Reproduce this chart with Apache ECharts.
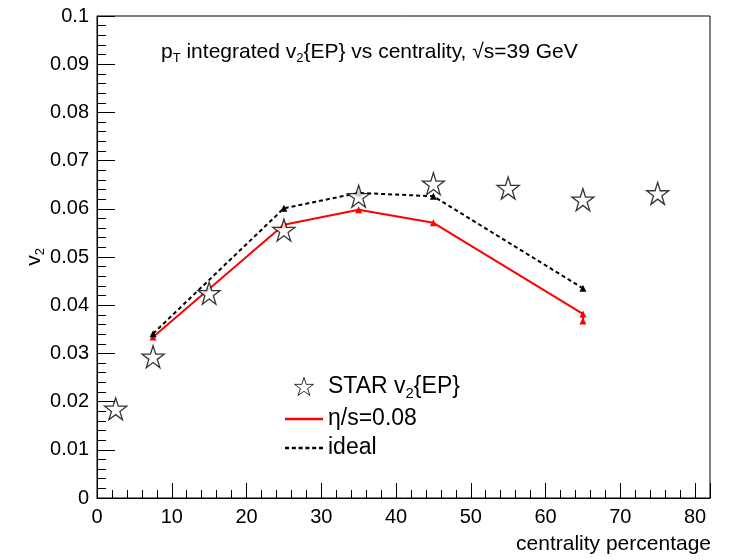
<!DOCTYPE html>
<html>
<head>
<meta charset="utf-8">
<script src="https://cdn.jsdelivr.net/npm/echarts@6/dist/echarts.min.js"></script>
<style>
  html, body { margin: 0; padding: 0; background: #fff; }
  #v2-chart { width: 735px; height: 560px; }
</style>
</head>
<body>
<div id="v2-chart"></div>
<script>
  // STAR v2{EP} measurements
  const starX = [2.5, 7.5, 15, 25, 35, 45, 55, 65, 75];
  const starV2 = [0.0185, 0.0293, 0.0425, 0.0556, 0.0626, 0.0652, 0.0643, 0.0619, 0.0632];
  // hydro eta/s = 0.08
  const viscX = [7.5, 25, 35, 45, 65, 65];
  const viscV2 = [0.0334, 0.0567, 0.0598, 0.0571, 0.0382, 0.0367];
  // ideal hydro
  const idealX = [7.5, 25, 35, 45, 65];
  const idealV2 = [0.0341, 0.0601, 0.0633, 0.0626, 0.0435];

  const pairs = (xs, ys) => xs.map((x, i) => [x, ys[i]]);
  const font = 'Liberation Sans';
  const starPath = 'path://M50,0 L61.2,34.5 L97.6,34.5 L68.2,55.9 L79.4,90.5 L50,69.1 L20.6,90.5 L31.8,55.9 L2.4,34.5 L38.8,34.5 Z';
  const sub = { fontSize: 13, fontFamily: font, color: '#000', padding: [13, 0, 0, 0] };

  let chart = echarts.init(document.getElementById('v2-chart'));
  const option = {
    animation: false,
    title: {
      left: 156,
      top: 34,
      text: 'p{sub|T} integrated v{sub|2}{EP} vs centrality, √s=39 GeV',
      textStyle: {
        fontFamily: font, fontSize: 21, fontWeight: 'normal', color: '#000',
        rich: { sub: sub }
      }
    },
    legend: {
      orient: 'vertical',
      left: 280,
      top: 370,
      itemWidth: 38,
      itemHeight: 18,
      itemGap: 6,
      textStyle: {
        fontFamily: font, fontSize: 23, color: '#000',
        rich: { sub: { fontSize: 15, fontFamily: font, color: '#000', padding: [15, 0, 0, 0] } }
      },
      formatter: function (name) {
        return name === 'STAR' ? 'STAR v{sub|2}{EP}' : name;
      },
      data: [
        { name: 'STAR', icon: starPath, itemStyle: { color: '#fff', borderColor: '#000', borderWidth: 1 } },
        { name: 'η/s=0.08', icon: 'path://M0,0h38v2.4h-38z', itemStyle: { borderWidth: 0 } },
        { name: 'ideal', icon: 'path://M0,0h4v2.4h-4zM6.8,0h4v2.4h-4zM13.6,0h4v2.4h-4zM20.4,0h4v2.4h-4zM27.2,0h4v2.4h-4zM34,0h4v2.4h-4z', itemStyle: { borderWidth: 0 } }
      ]
    },
    grid: {
      left: 97,
      right: 25,
      top: 16,
      bottom: 62,
      show: true,
      borderColor: '#000',
      borderWidth: 1
    },
    xAxis: {
      type: 'value',
      min: 0,
      max: 82,
      interval: 10,
      name: 'centrality percentage',
      nameLocation: 'end',
      nameGap: 1,
      nameTextStyle: {
        fontFamily: font, fontSize: 21, color: '#000',
        align: 'right', verticalAlign: 'top', padding: [36, 0, 0, 0]
      },
      axisLine: { onZero: false, lineStyle: { color: '#000', width: 1 } },
      axisTick: { inside: true, length: 15, lineStyle: { color: '#000' } },
      minorTick: { show: true, splitNumber: 5, length: 8, lineStyle: { color: '#000' } },
      splitLine: { show: false },
      axisLabel: {
        fontFamily: font, fontSize: 20, color: '#000', margin: 9,
        showMaxLabel: false
      }
    },
    yAxis: {
      type: 'value',
      min: 0,
      max: 0.1,
      interval: 0.01,
      name: 'v{sub|2}',
      nameLocation: 'middle',
      nameRotate: 90,
      nameGap: 50,
      nameMoveOverlap: false,
      nameTextStyle: {
        fontFamily: font, fontSize: 21, color: '#000',
        rich: { sub: sub }
      },
      axisLine: { show: true, onZero: false, lineStyle: { color: '#000', width: 1 } },
      axisTick: { inside: true, length: 18, lineStyle: { color: '#000' } },
      minorTick: { show: true, splitNumber: 5, length: 9, lineStyle: { color: '#000' } },
      splitLine: { show: false },
      axisLabel: {
        fontFamily: font, fontSize: 20, color: '#000', margin: 8,
        formatter: function (v) { return +v.toFixed(3) + ''; }
      }
    },
    series: [
      {
        name: 'η/s=0.08',
        type: 'line',
        data: pairs(viscX, viscV2),
        symbol: 'triangle',
        symbolSize: 7,
        itemStyle: { color: '#ff0000' },
        lineStyle: { color: '#ff0000', width: 2 },
        z: 2
      },
      {
        name: 'ideal',
        type: 'line',
        data: pairs(idealX, idealV2),
        symbol: 'triangle',
        symbolSize: 7,
        itemStyle: { color: '#000' },
        lineStyle: { color: '#000', width: 2, type: [4, 3] },
        z: 2
      },
      {
        name: 'STAR',
        type: 'scatter',
        data: pairs(starX, starV2),
        symbol: starPath,
        symbolSize: 22,
        itemStyle: { color: '#fff', borderColor: '#000', borderWidth: 1.3 },
        z: 3
      }
    ]
  };
  chart.setOption(option);
  window.addEventListener('resize', function () {
    chart.resize();
  });
</script>
</body>
</html>
